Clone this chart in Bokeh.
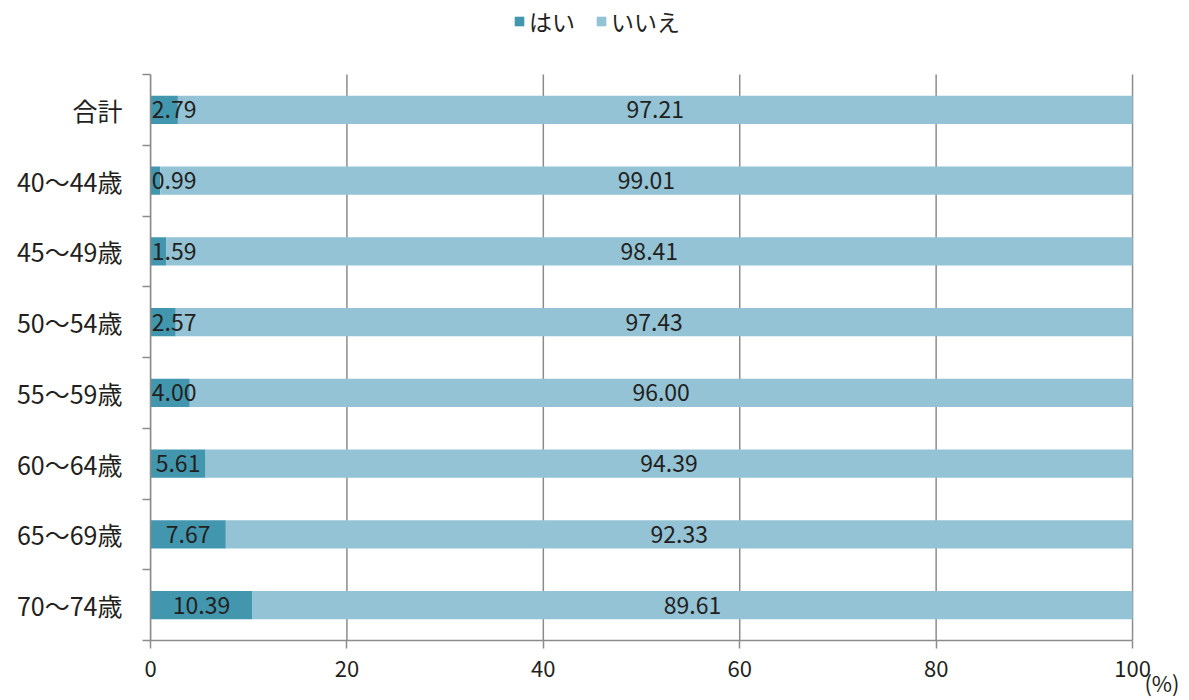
from bokeh.plotting import figure
from bokeh.models import Range1d, FixedTicker, Legend, LegendItem, LinearAxis, ColumnDataSource
from bokeh.core.properties import value
from bokeh.embed import file_html
from bokeh.resources import INLINE

categories = ["合計", "40〜44歳", "45〜49歳", "50〜54歳", "55〜59歳", "60〜64歳", "65〜69歳", "70〜74歳"]
yes_vals = [2.79, 0.99, 1.59, 2.57, 4.00, 5.61, 7.67, 10.39]
no_vals = [97.21, 99.01, 98.41, 97.43, 96.00, 94.39, 92.33, 89.61]
x_ticks = [0, 20, 40, 60, 80, 100]
unit_label = "(%)"

FONT = "Noto Sans CJK JP"
C_YES = "#4297ae"
C_NO = "#93c3d5"
GREY = "#8c8c8c"
TXT = "#231f20"

n = len(categories)
ypos = [n - 0.5 - i for i in range(n)]

# frame spans the whole top so the legend can sit above the bars
p = figure(width=1189, height=700, output_backend="svg", toolbar_location=None,
           x_range=Range1d(0, 105.8), y_range=Range1d(0, n * 640 / 566),
           min_border_left=150, min_border_right=0, min_border_top=0, min_border_bottom=60)
p.outline_line_color = None
p.background_fill_color = "white"
p.title.visible = False

src = ColumnDataSource(dict(
    y=ypos, yes=yes_vals, no=no_vals,
    no_right=[a + b for a, b in zip(yes_vals, no_vals)],
    yes_lab=["%.2f" % v for v in yes_vals],
    no_lab=["%.2f" % v for v in no_vals],
    yes_x=[max(v / 2, 2.4) for v in yes_vals],
    no_x=[a + b / 2 for a, b in zip(yes_vals, no_vals)],
))

# vertical gridlines limited to the category area
p.segment(x0=x_ticks, y0=[0] * len(x_ticks), x1=x_ticks, y1=[n] * len(x_ticks),
          line_color=GREY, line_width=1.5)

r_yes = p.hbar(y="y", left=0, right="yes", height=0.4, source=src, fill_color=C_YES, line_color=None)
r_no = p.hbar(y="y", left="yes", right="no_right", height=0.4, source=src, fill_color=C_NO, line_color=None)

p.text(x="yes_x", y="y", text="yes_lab", source=src, text_align="center", text_baseline="middle",
       text_font=value(FONT), text_font_size="23px", text_color=TXT)
p.text(x="no_x", y="y", text="no_lab", source=src, text_align="center", text_baseline="middle",
       text_font=value(FONT), text_font_size="23px", text_color=TXT)

# x axis
xa = p.xaxis[0]
xa.ticker = FixedTicker(ticks=x_ticks)
xa.bounds = (0, 100)
xa.axis_line_color = GREY
xa.axis_line_width = 1.5
xa.major_tick_line_color = GREY
xa.major_tick_line_width = 1.5
xa.major_tick_out = 8
xa.major_tick_in = 0
xa.minor_tick_line_color = None
xa.major_label_text_font = FONT
xa.major_label_text_font_size = "22px"
xa.major_label_text_color = TXT
xa.major_label_standoff = 12

# unit label as a second bottom axis
ua = LinearAxis(ticker=FixedTicker(ticks=[103]), major_label_overrides={103: unit_label})
ua.axis_line_color = None
ua.major_tick_line_color = None
ua.minor_tick_line_color = None
ua.major_tick_out = 0
ua.major_tick_in = 0
ua.major_label_standoff = -14
ua.major_label_text_font = FONT
ua.major_label_text_font_size = "22px"
ua.major_label_text_color = TXT
p.add_layout(ua, "below")

# y axis
ya = p.yaxis[0]
ya.ticker = FixedTicker(ticks=ypos, minor_ticks=list(range(n + 1)))
ya.major_label_overrides = {y: c for y, c in zip(ypos, categories)}
ya.bounds = (0, n)
ya.axis_line_color = GREY
ya.axis_line_width = 1.5
ya.major_tick_line_color = None
ya.major_tick_out = 8
ya.major_tick_in = 0
ya.minor_tick_line_color = GREY
ya.minor_tick_line_width = 1.5
ya.minor_tick_out = 8
ya.minor_tick_in = 0
ya.major_label_text_font = FONT
ya.major_label_text_font_size = "25px"
ya.major_label_text_color = TXT
ya.major_label_standoff = 20

p.ygrid.grid_line_color = None
p.xgrid.grid_line_color = None

legend = Legend(items=[LegendItem(label="はい", renderers=[r_yes]),
                       LegendItem(label="いいえ", renderers=[r_no])],
                orientation="horizontal", location=(363, 602),
                label_text_font=FONT, label_text_font_size="23px", label_text_color=TXT,
                glyph_width=12, glyph_height=12, label_standoff=4, spacing=20,
                padding=0, margin=0, border_line_color=None, background_fill_alpha=0)
p.add_layout(legend, "center")

open("out.html", "w").write(file_html(p, INLINE))
